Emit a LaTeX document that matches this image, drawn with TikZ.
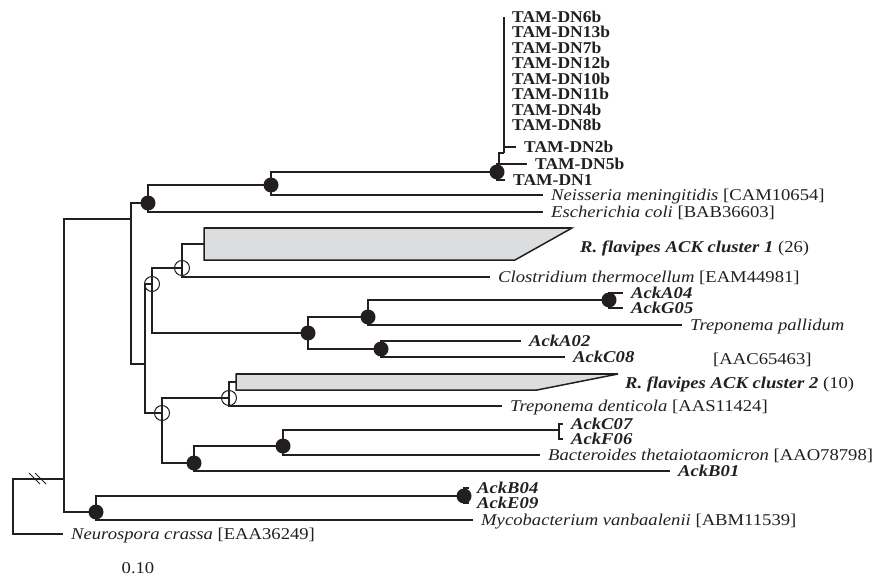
\documentclass[tikz,border=0pt]{standalone}
\usepackage{fontspec}
\setmainfont{Liberation Serif}[FakeStretch=1.13]
\newfontfamily\tamfont{Liberation Serif}[FakeStretch=1.06]
\usetikzlibrary{positioning,calc}
\definecolor{treeblack}{RGB}{35,31,32}
\definecolor{cladegray}{RGB}{220,221,223}
\tikzset{
	branch/.style={draw=treeblack, line width=1.5pt},
	bsfull/.style={circle, fill=treeblack, inner sep=0pt, minimum size=15pt},
	bsopen/.style={circle, draw=treeblack, line width=1pt, inner sep=0pt, minimum size=15pt},
	taxon/.style={
		anchor=west,
		inner xsep=8pt, inner ysep=0pt,
		text height=11pt, text depth=0pt,
		text=treeblack,
		font=\fontsize{16.5}{18}\selectfont},
	tam/.style={taxon, font=\fontsize{16.5}{18}\selectfont\tamfont\bfseries},
	ack/.style={taxon, font=\fontsize{16.5}{18}\selectfont\bfseries\itshape},
	clade/.style={fill=cladegray, draw=treeblack, line width=1.5pt},
	cladetop/.style={draw=treeblack, line width=2.4pt},
}

\begin{document}
\begin{tikzpicture}[x=1pt, y=-1pt]
\useasboundingbox (0,0) rectangle (875,580);

% internal nodes
\coordinate (og) at (13,506);
\coordinate (ing) at (64,479);
\coordinate (nA) at (131,219);
\coordinate (nB) at (148,203);
\coordinate (nD) at (271,185);
\coordinate (nT) at (497,172);
\coordinate (nT2) at (499,164);
\coordinate (nT3) at (504,153);
\coordinate (nC) at (145,364);
\coordinate (nE) at (152,284);
\coordinate (nG) at (182,268);
\coordinate (cl1) at (204,244);
\coordinate (nH) at (308,333);
\coordinate (nI) at (368,317);
\coordinate (nK) at (609,300);
\coordinate (nJ) at (381,349);
\coordinate (nF) at (162,413);
\coordinate (nL) at (229,398);
\coordinate (cl2) at (236,382);
\coordinate (nM) at (194,463);
\coordinate (nN) at (283,446);
\coordinate (nO) at (559,430);
\coordinate (myc) at (96,512);
\coordinate (nP) at (464,496);

% leaves
\node[taxon] (neis) at (543,195) {\textit{Neisseria meningitidis} [CAM10654]};
\node[taxon] (esch) at (543,212) {\textit{Escherichia coli} [BAB36603]};
\node[tam] (dn2b) at (516,147) {TAM-DN2b};
\node[tam] (dn5b) at (527,164) {TAM-DN5b};
\node[tam] (dn1) at (505,180) {TAM-DN1};
\node[taxon] (clos) at (490,277) {\textit{Clostridium thermocellum} [EAM44981]};
\node[ack] (acka04) at (623,293) {AckA04};
\node[ack] (ackg05) at (623,308) {AckG05};
\node[taxon] (tpal) at (682,325) {\textit{Treponema pallidum}};
\node[taxon] (tpalacc) at (705,359) {[AAC65463]};
\node[ack] (acka02) at (521,341) {AckA02};
\node[ack] (ackc08) at (565,357) {AckC08};
\node[taxon] (tden) at (502,406) {\textit{Treponema denticola} [AAS11424]};
\node[ack] (ackc07) at (563,424) {AckC07};
\node[ack] (ackf06) at (563,439) {AckF06};
\node[taxon] (bact) at (540,455) {\textit{Bacteroides thetaiotaomicron} [AAO78798]};
\node[ack] (ackb01) at (670,471) {AckB01};
\node[ack] (ackb04) at (469,488) {AckB04};
\node[ack] (acke09) at (469,503) {AckE09};
\node[taxon] (mycb) at (473,520) {\textit{Mycobacterium vanbaalenii} [ABM11539]};
\node[taxon] (neur) at (63,534) {\textit{Neurospora crassa} [EAA36249]};

% collapsed clusters
\filldraw[clade] ($(cl1)+(0,-16)$) -- ++(368,0) -- ($(cl1)+(311,16)$) -- ($(cl1)+(0,16)$) -- cycle;
\draw[cladetop] ($(cl1)+(0,-16)$) -- ++(368,0);
\node[taxon] (cl1lab) at (572,247) {\textbf{\textit{R. flavipes ACK cluster 1}} (26)};
\filldraw[clade] ($(cl2)+(0,-8)$) -- ++(382,0) -- ($(cl2)+(301,8)$) -- ($(cl2)+(0,8)$) -- cycle;
\draw[cladetop] ($(cl2)+(0,-8)$) -- ++(382,0);
\node[taxon] (cl2lab) at (617,383) {\textbf{\textit{R. flavipes ACK cluster 2}} (10)};

% branches
\foreach \a/\b in {og/ing, og/neur.west, ing/nA, ing/myc,
	nA/nB, nA/nC, nB/nD, nB/esch.west, nD/nT, nD/neis.west,
	nT/nT2, nT/dn1.west, nT2/nT3, nT2/dn5b.west, nT3/dn2b.west,
	nC/nE, nC/nF, nE/nG, nE/nH, nG/cl1, nG/clos.west,
	nH/nI, nH/nJ, nI/nK, nI/tpal.west, nK/acka04.west, nK/ackg05.west,
	nJ/acka02.west, nJ/ackc08.west,
	nF/nL, nF/nM, nL/cl2, nL/tden.west, nM/nN, nM/ackb01.west,
	nN/nO, nN/bact.west, nO/ackc07.west, nO/ackf06.west,
	myc/nP, myc/mycb.west, nP/ackb04.west, nP/acke09.west}
	\draw[branch] (\a) |- (\b);

% TAM polytomy
\foreach \lab [count=\i from 0] in {6b,13b,7b,12b,10b,11b,4b,8b} {
	\node[tam] (dn\lab) at (504,{17+15.43*\i}) {TAM-DN\lab};
	\draw[branch] (nT3) |- (dn\lab.west);
}

% break on the outgroup branch
\coordinate (brk) at ($(og |- ing)!0.5!(ing)$);
\draw[branch, line width=1pt] ($(brk)+(-9.5,-6)$) -- ++(11,11);
\draw[branch, line width=1pt] ($(brk)+(-3.5,-6)$) -- ++(11,11);

% bootstrap support
\foreach \n in {nB,nD,nT,nH,nI,nK,nJ,nM,nN,myc,nP}
	\node[bsfull] (b\n) at (\n) {};
\foreach \n in {nE,nG,nF,nL}
	\node[bsopen] (b\n) at (\n) {};

\node[taxon, anchor=center, inner xsep=0pt] (scale) at (138,568) {0.10};
\end{tikzpicture}
\end{document}
